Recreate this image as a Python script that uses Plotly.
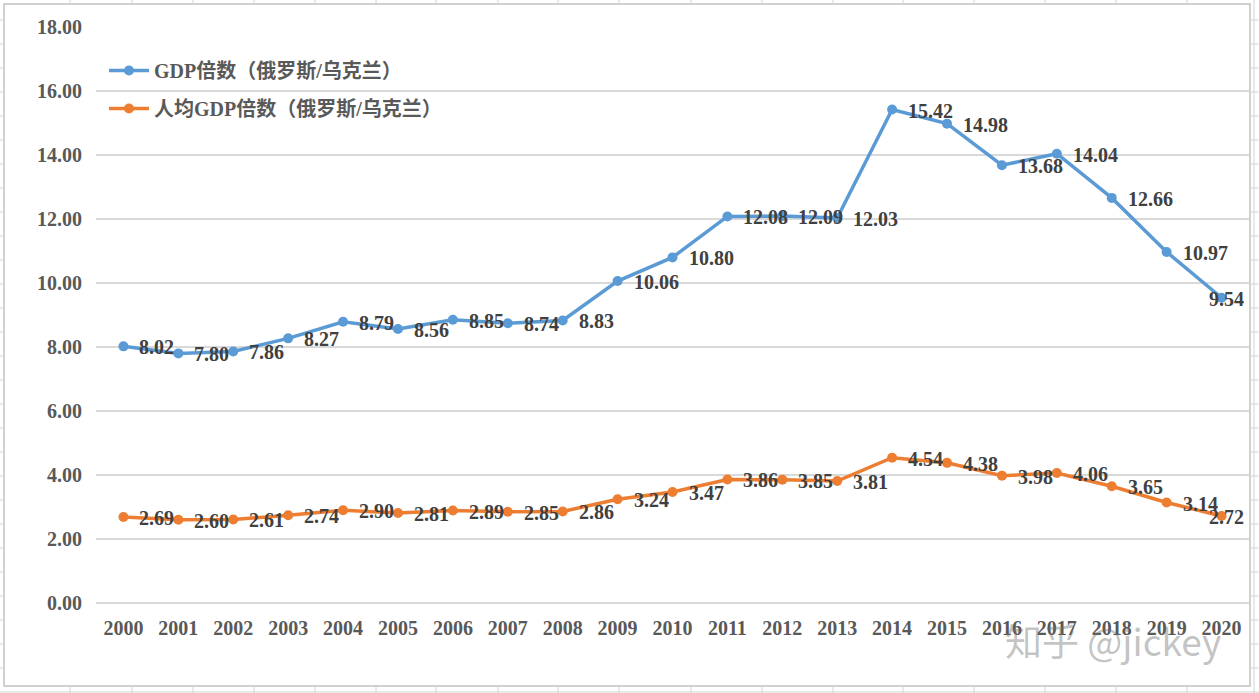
import plotly.graph_objects as go

years = [str(y) for y in range(2000, 2021)]
gdp_ratio = [8.02, 7.80, 7.86, 8.27, 8.79, 8.56, 8.85, 8.74, 8.83, 10.06, 10.80,
             12.08, 12.09, 12.03, 15.42, 14.98, 13.68, 14.04, 12.66, 10.97, 9.54]
pc_ratio = [2.69, 2.60, 2.61, 2.74, 2.90, 2.81, 2.89, 2.85, 2.86, 3.24, 3.47,
            3.86, 3.85, 3.81, 4.54, 4.38, 3.98, 4.06, 3.65, 3.14, 2.72]
series_names = ["GDP倍数（俄罗斯/乌克兰）", "人均GDP倍数（俄罗斯/乌克兰）"]
y_ticks = [0, 2, 4, 6, 8, 10, 12, 14, 16, 18]

W, H = 1259, 693
L, R, T, B = 96, 10, 27, 90
PW, PH = W - L - R, H - T - B

def px(x):
    return (x - L) / PW

def py(y):
    return (H - B - y) / PH

FONT = "Liberation Serif, 'Noto Sans CJK SC', serif"
BLUE = "#5B9BD5"
ORANGE = "#ED7D31"

fig = go.Figure()
for name, vals, col, grp in [(series_names[0], gdp_ratio, BLUE, "a"),
                             (series_names[1], pc_ratio, ORANGE, "b")]:
    fig.add_trace(go.Scatter(
        x=list(range(len(years))), y=vals, mode="lines+markers", name=name,
        legendgroup=grp,
        line=dict(color=col, width=3.5), marker=dict(color=col, size=10),
        cliponaxis=False,
    ))

annotations = []
for vals in (gdp_ratio, pc_ratio):
    for i, v in enumerate(vals):
        last = i == len(years) - 1
        annotations.append(dict(
            x=i, y=v, xref="x", yref="y", text=f"{v:.2f}", showarrow=False,
            xanchor="center" if last else "left",
            xshift=5 if last else 14, yshift=-1,
            font=dict(family=FONT, size=20, color="#404040", weight="bold"),
        ))

annotations.append(dict(
    x=px(1113), y=py(640), xref="paper", yref="paper", text="知乎 @jickey",
    showarrow=False, xanchor="center", yanchor="middle",
    font=dict(family="'Noto Sans CJK SC', sans-serif", size=37,
              color="rgba(110,110,110,0.42)"),
))

shapes = []
col_x = [70, 132, 193, 254, 315, 376, 436, 498, 558, 619, 691, 762, 833, 903,
         974, 1045, 1116, 1187, 1254]
for cx in col_x:
    shapes.append(dict(type="line", xref="paper", yref="paper",
                       x0=px(cx), x1=px(cx), y0=py(0), y1=py(H),
                       line=dict(color="#D4D4D4", width=1), layer="below"))
for k in range(0, 29):
    ry = 20 + 24 * k
    shapes.append(dict(type="line", xref="paper", yref="paper",
                       x0=px(0), x1=px(W), y0=py(ry), y1=py(ry),
                       line=dict(color="#D4D4D4", width=1), layer="below"))
shapes.append(dict(type="rect", xref="paper", yref="paper",
                   x0=px(4), x1=px(1250), y0=py(686), y1=py(4),
                   fillcolor="white", line=dict(color="#D0D0D0", width=2),
                   layer="below"))

fig.update_layout(
    width=W, height=H,
    margin=dict(l=L, r=R, t=T, b=B, pad=0),
    paper_bgcolor="white", plot_bgcolor="rgba(0,0,0,0)",
    showlegend=True,
    legend=dict(x=px(104), y=py(51), xanchor="left", yanchor="top",
                bgcolor="rgba(0,0,0,0)", tracegroupgap=9, traceorder="grouped",
                font=dict(family=FONT, size=20, color="#595959", weight="bold"),
                itemwidth=40),
    xaxis=dict(tickmode="array", tickvals=list(range(len(years))), ticktext=years,
               showgrid=False, showline=False, zeroline=False,
               ticks="outside", ticklen=7, tickcolor="rgba(0,0,0,0)",
               tickfont=dict(family=FONT, size=20, color="#595959", weight="bold"),
               range=[-0.5, len(years) - 0.5]),
    yaxis=dict(range=[0, 18], tickvals=y_ticks, tickformat=".2f",
               showgrid=True, gridcolor="#D9D9D9", gridwidth=2,
               zeroline=True, zerolinecolor="#D9D9D9", zerolinewidth=2,
               showline=False, ticks="outside", ticklen=9,
               tickcolor="rgba(0,0,0,0)",
               tickfont=dict(family=FONT, size=20, color="#595959", weight="bold")),
    annotations=annotations,
    shapes=shapes,
)

fig.write_html("out.html", config={"displayModeBar": False},
               post_script="document.body.style.margin='0';")
